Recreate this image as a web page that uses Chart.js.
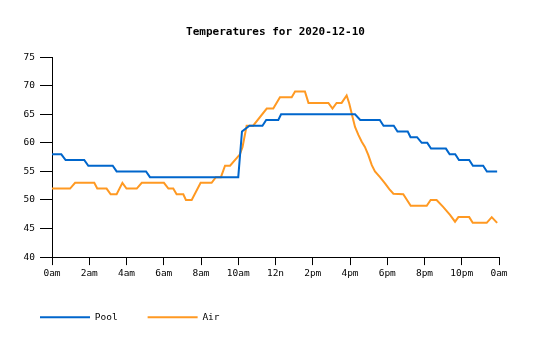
<!DOCTYPE html>
<html>
<head>
<meta charset="utf-8">
<script src="https://cdn.jsdelivr.net/npm/chart.js@4"></script>
<style>
  body { margin: 0; background: #fff; }
  #wrap { width: 535px; height: 340px; }
</style>
</head>
<body>
<div id="wrap"><canvas id="chart"></canvas></div>
<script>
////// Temperatures chart

const chartTitle = 'Temperatures for 2020-12-10';
const hourLabels = ['0am', '2am', '4am', '6am', '8am', '10am', '12n', '2pm', '4pm', '6pm', '8pm', '10pm', '0am'];

// pool readings (hour of day, deg F)
const poolHours = [0, 0.5, 0.73, 1.73, 1.95, 3.26, 3.47, 5.05, 5.26, 10.0, 10.1, 10.2, 10.6, 11.3, 11.5, 12.15, 12.3,
    16.27, 16.55, 17.6, 17.8, 18.35, 18.55, 19.1, 19.25, 19.6, 19.85, 20.15, 20.35, 21.15, 21.35, 21.65, 21.85,
    22.4, 22.6, 23.15, 23.35, 23.9];
const poolTemps = [58, 58, 57, 57, 56, 56, 55, 55, 54, 54, 58, 62, 63, 63, 64, 64, 65,
    65, 64, 64, 63, 63, 62, 62, 61, 61, 60, 60, 59, 59, 58, 58, 57,
    57, 56, 56, 55, 55];

// air readings
const airHours = [0, 0.97, 1.24, 2.27, 2.43, 2.93, 3.15, 3.47, 3.78, 4.0, 4.55, 4.82, 6.01, 6.25, 6.51, 6.69, 7.05,
    7.19, 7.5, 7.98, 8.57, 8.8, 9.07, 9.29, 9.56, 10.09, 10.23, 10.45, 10.8, 11.53, 11.88, 12.24, 12.87, 13.05,
    13.58, 13.77, 14.84, 15.06, 15.28, 15.55, 15.82, 15.96, 16.14, 16.27, 16.45, 16.63, 16.8, 16.98, 17.17, 17.34,
    17.61, 17.88, 18.11, 18.33, 18.86, 19.26, 20.12, 20.33, 20.65, 21.0, 21.37, 21.64, 21.82, 22.4, 22.59, 23.34,
    23.61, 23.9];
const airTemps = [52, 52, 53, 53, 52, 52, 51, 51, 53, 52, 52, 53, 53, 52, 52, 51, 51,
    50, 50, 53, 53, 54, 54, 56, 56, 58, 59.3, 63, 63, 66, 66, 68, 68, 69,
    69, 67, 67, 66, 67, 67, 68.3, 66.9, 64.5, 62.8, 61.4, 60.2, 59.3, 57.9, 56.1, 55,
    54, 52.9, 51.9, 51.1, 51, 49, 49, 50, 50, 48.8, 47.4, 46.2, 47, 47, 46, 46,
    47, 46];

const yTicks = { min: 40, max: 75, step: 5 };

const mono = 'DejaVu Sans Mono, monospace';

function toPoints(xs, ys) {
    return xs.map((x, i) => ({ x: x, y: ys[i] }));
}

const ctx = document.getElementById('chart').getContext('2d');

new Chart(ctx, {
    type: 'line',
    data: {
        datasets: [{
            label: 'Pool',
            data: toPoints(poolHours, poolTemps),
            borderColor: '#0066cc',
            backgroundColor: '#0066cc',
            borderWidth: 2,
            pointRadius: 0,
            pointStyle: 'line',
            tension: 0
        }, {
            label: 'Air',
            data: toPoints(airHours, airTemps),
            borderColor: '#ff9922',
            backgroundColor: '#ff9922',
            borderWidth: 2,
            pointRadius: 0,
            pointStyle: 'line',
            tension: 0
        }]
    },
    options: {
        responsive: true,
        maintainAspectRatio: false,
        animation: false,
        layout: {
            padding: { left: 10, right: 36, top: 0, bottom: 8 }
        },
        plugins: {
            title: {
                display: true,
                fullSize: false,
                text: chartTitle,
                color: '#000',
                font: { family: mono, size: 11, weight: 'bold' },
                padding: { top: 26, bottom: 18 }
            },
            legend: {
                position: 'bottom',
                align: 'start',
                labels: {
                    usePointStyle: true,
                    pointStyleWidth: 50,
                    padding: 30,
                    color: '#000',
                    font: { family: mono, size: 9.5 }
                }
            },
            tooltip: { enabled: false }
        },
        scales: {
            x: {
                type: 'linear',
                min: 0,
                max: 24,
                border: { color: '#000', width: 1 },
                grid: { drawOnChartArea: false, color: '#000', tickLength: 8 },
                ticks: {
                    stepSize: 2,
                    color: '#000',
                    padding: 3,
                    maxRotation: 0,
                    font: { family: mono, size: 9.5 },
                    callback: (v) => hourLabels[v / 2]
                }
            },
            y: {
                min: yTicks.min,
                max: yTicks.max,
                border: { color: '#000', width: 1 },
                grid: { drawOnChartArea: false, color: '#000', tickLength: 12 },
                ticks: {
                    stepSize: yTicks.step,
                    color: '#000',
                    padding: 5,
                    font: { family: mono, size: 9.5 }
                },
                afterFit: (axis) => { axis.width = 42; }
            }
        }
    }
});

////// End chart
</script>
</body>
</html>
